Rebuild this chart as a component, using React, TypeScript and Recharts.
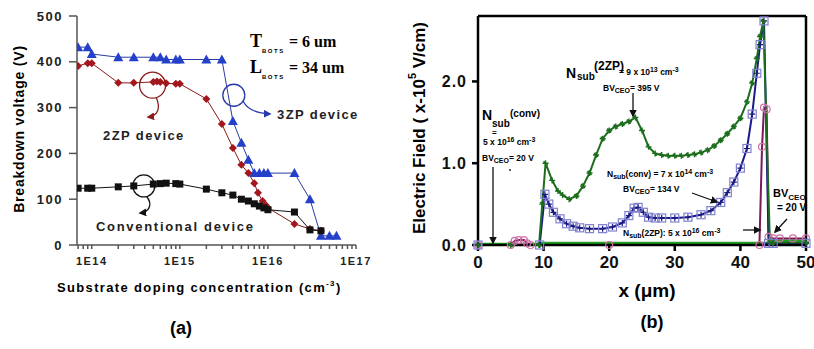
import React from "react";
import { LineChart, Line, XAxis, YAxis, ReferenceDot, ReferenceLine } from "recharts";

const SANS = "'Liberation Sans', Arial, sans-serif";
const SERIF = "'Liberation Serif', 'Times New Roman', serif";

// (a) breakdown voltage vs substrate doping (cm^-3)
const doping3zp = [7e13, 9e13, 1e14, 2e14, 3e14, 5e14, 6e14, 7e14, 9e14, 1e15, 2e15, 3e15, 4e15, 5e15, 6e15, 7e15, 8e15, 9e15, 1e16, 2e16, 3e16, 4e16, 5e16, 6e16];
const bv3zp = [432, 432, 417, 410, 410, 410, 410, 405, 405, 405, 405, 405, 271, 223, 186, 157, 157, 157, 157, 157, 100, 20, 20, 20];

const doping2zp = [7e13, 9e13, 1e14, 2e14, 3e14, 5e14, 5.5e14, 6e14, 7e14, 9e14, 1e15, 2e15, 3e15, 4e15, 5e15, 6e15, 7e15, 7.7e15, 8.7e15, 9.5e15, 1e16, 2e16, 3e16, 4e16];
const bv2zp = [391, 397, 397, 354, 354, 356, 357, 356, 353, 352, 352, 319, 264, 212, 175, 157, 135, 114, 96, 87, 81, 46, 35, 31];

const dopingConv = [7e13, 9e13, 1e14, 2e14, 3e14, 5e14, 6e14, 7e14, 9e14, 1e15, 2e15, 3e15, 4e15, 5e15, 6e15, 7e15, 8e15, 9e15, 1e16, 2e16, 3e16, 4e16];
const bvConv = [124, 124, 124, 127, 129, 133, 134, 135, 134, 133, 122, 114, 109, 100, 96, 90, 85, 81, 77, 72, 33, 31];

const decades = [13, 14, 15, 16];
const mantissas = [1, 2, 3, 4, 5, 6, 7, 8, 9];
const dopingMin = 6.8e13;
const dopingMax = 1e17;
const voltTicks = [0, 100, 200, 300, 400, 500];

// (b) electric field (x1e5 V/cm) along x (um)
const x2zpLow = [0, 5, 9.3, 9.8, 10.3, 11.3, 12.2, 12.9, 13.9, 15, 16, 17, 18, 19, 20, 21, 22, 23, 24, 25, 26, 27, 28, 29, 30, 31, 32, 33, 34, 35, 36, 37, 38, 39, 40, 41, 41.8, 42.5, 43, 43.5, 44.5, 45, 50];
const e2zpLow = [0, 0, 0, 0.5, 1.0, 0.79, 0.66, 0.61, 0.56, 0.6, 0.72, 0.88, 1.1, 1.3, 1.4, 1.45, 1.48, 1.51, 1.56, 1.4, 1.2, 1.12, 1.1, 1.09, 1.09, 1.09, 1.1, 1.11, 1.13, 1.16, 1.21, 1.28, 1.36, 1.45, 1.55, 1.75, 1.98, 2.28, 2.55, 2.74, 0.03, 0.03, 0.03];

const xConv = [0, 9.4, 10.2, 10.8, 11.5, 12.5, 13.5, 14.5, 15.5, 17, 19, 20.5, 22, 23, 23.8, 24.4, 25.2, 26, 27, 28, 30, 32, 34, 35.5, 37, 38, 39, 40, 41, 41.8, 42.5, 43, 43.6, 44.3, 45, 50];
const eConv = [0, 0, 0.62, 0.5, 0.4, 0.32, 0.26, 0.23, 0.21, 0.2, 0.2, 0.22, 0.27, 0.36, 0.45, 0.46, 0.4, 0.34, 0.33, 0.33, 0.33, 0.34, 0.37, 0.42, 0.52, 0.64, 0.77, 0.94, 1.18, 1.6, 2.1, 2.45, 2.74, 0.02, 0.02, 0.02];

const x2zpHigh = [0, 5, 5.6, 6.2, 7, 7.5, 8, 20, 42.9, 43.3, 43.6, 44.0, 44.3, 45, 46, 48, 50];
const e2zpHigh = [0, 0, 0.05, 0.06, 0.06, 0.02, 0, 0, 0, 1.2, 1.68, 1.66, 0.1, 0.08, 0.08, 0.08, 0.08];

const xFloor = [0, 9, 10, 20, 30, 43, 44.5, 45, 47, 50];
const eFloor = [0.01, 0.01, 0.02, 0.02, 0.02, 0.02, 0.02, 0.05, 0.05, 0.05];

const posTicks = [0, 10, 20, 30, 40, 50];
const fieldTicks = [0, 1, 2];

const pts = (xs: number[], ys: number[]) => xs.map((x, i) => ({ x, y: ys[i] }));

const Tri = (p: any) => (
  <path key={`t${p.index}`} d={`M${p.cx},${p.cy - 5}L${p.cx + 5},${p.cy + 4}L${p.cx - 5},${p.cy + 4}Z`} fill="#2440c8" />
);
const Dia = (p: any) => (
  <path key={`d${p.index}`} d={`M${p.cx},${p.cy - 4}L${p.cx + 4},${p.cy}L${p.cx},${p.cy + 4}L${p.cx - 4},${p.cy}Z`} fill="#a3161c" />
);
const Sq = (p: any) => <rect key={`s${p.index}`} x={p.cx - 3.5} y={p.cy - 3.5} width={7} height={7} fill="#111" />;
const Star = (p: any) => (
  <path
    key={`g${p.index}`}
    d={`M${p.cx - 3},${p.cy}h6M${p.cx},${p.cy - 3}v6M${p.cx - 2},${p.cy - 2}l4,4`}
    stroke="#1c6e1c"
    strokeWidth={1.4}
  />
);
const OpenSq = (p: any) => (
  <g key={`b${p.index}`}>
    <rect x={p.cx - 4} y={p.cy - 4} width={8} height={8} fill="none" stroke="#8080d0" strokeWidth={1.2} />
    <path d={`M${p.cx - 3},${p.cy}h6M${p.cx},${p.cy - 3}v6`} stroke="#1a1a80" strokeWidth={1.2} />
  </g>
);
const OpenCirc = (p: any) => (
  <circle key={`c${p.index}`} cx={p.cx} cy={p.cy} r={3.5} fill="none" stroke="#d070a8" strokeWidth={1.2} />
);

const isDecade = (v: number) => Math.abs(Math.log10(v) - Math.round(Math.log10(v))) < 1e-6;

function PanelA() {
  const ticks = decades
    .flatMap((d) => mantissas.map((m) => m * 10 ** d))
    .filter((v) => v >= dopingMin)
    .concat([dopingMax]);
  return (
    <LineChart width={384} height={300} margin={{ top: 16, right: 28, left: 15, bottom: 25 }}>
      <XAxis
        type="number"
        dataKey="x"
        scale="log"
        domain={[dopingMin, dopingMax]}
        allowDataOverflow
        ticks={ticks}
        interval={0}
        height={30}
        stroke="#555"
        strokeWidth={1.5}
        tickSize={4}
        tickMargin={8}
        tickFormatter={(v: number) => (isDecade(v) ? `1E${Math.round(Math.log10(v))}` : "")}
        tick={{ fill: "#222", fontSize: 11, fontWeight: 700, fontFamily: SANS, letterSpacing: 1.5 }}
      />
      <YAxis
        type="number"
        domain={[0, 500]}
        ticks={voltTicks}
        width={62}
        stroke="#555"
        strokeWidth={1.5}
        tickSize={8}
        tickMargin={6}
        tick={{ fill: "#222", fontSize: 13, fontWeight: 700, fontFamily: SANS, letterSpacing: 1.5 }}
      />
      <Line data={pts(doping3zp, bv3zp)} dataKey="y" stroke="#2a3aa8" strokeWidth={1} dot={Tri} isAnimationActive={false} />
      <Line data={pts(doping2zp, bv2zp)} dataKey="y" stroke="#8a1a1a" strokeWidth={1} dot={Dia} isAnimationActive={false} />
      <Line data={pts(dopingConv, bvConv)} dataKey="y" stroke="#111" strokeWidth={1} dot={Sq} isAnimationActive={false} />
      <ReferenceDot x={4.1e15} y={327} r={11} fill="none" stroke="#2a3aa8" strokeWidth={1.3} />
      <ReferenceDot x={4.9e14} y={349} r={13} fill="none" stroke="#8a1a1a" strokeWidth={1.3} />
      <ReferenceDot x={3.9e14} y={129} r={11} fill="none" stroke="#111" strokeWidth={1.3} />
    </LineChart>
  );
}

function PanelB() {
  return (
    <LineChart width={414} height={300} margin={{ top: 16, right: 8, left: 20, bottom: 25 }}>
      <XAxis
        type="number"
        dataKey="x"
        domain={[0, 50]}
        ticks={posTicks}
        interval={0}
        height={30}
        stroke="#000"
        strokeWidth={2.5}
        tickSize={6}
        tickMargin={5}
        tick={{ fill: "#111", fontSize: 17, fontWeight: 700, fontFamily: SANS }}
      />
      <YAxis
        type="number"
        domain={[0, 2.8]}
        ticks={fieldTicks}
        width={58}
        stroke="#000"
        strokeWidth={2.5}
        tickSize={6}
        tickMargin={5}
        tickFormatter={(v: number) => v.toFixed(1)}
        tick={{ fill: "#111", fontSize: 16, fontWeight: 700, fontFamily: SANS, letterSpacing: 1 }}
      />
      <ReferenceLine y={2.8} stroke="#000" strokeWidth={2.5} />
      <ReferenceLine x={50} stroke="#000" strokeWidth={2.5} />
      <Line data={pts(xFloor, eFloor)} dataKey="y" stroke="#22a022" strokeWidth={3} dot={false} isAnimationActive={false} />
      <Line data={pts(x2zpHigh, e2zpHigh)} dataKey="y" stroke="#7a1a5a" strokeWidth={2} dot={OpenCirc} isAnimationActive={false} />
      <Line data={pts(xConv, eConv)} dataKey="y" stroke="#1a1a8a" strokeWidth={2} dot={OpenSq} isAnimationActive={false} />
      <Line data={pts(x2zpLow, e2zpLow)} dataKey="y" stroke="#1c6e1c" strokeWidth={2} dot={Star} isAnimationActive={false} />
    </LineChart>
  );
}

function Arrow({ d, color, id }: { d: string; color: string; id: string }) {
  return <path d={d} fill="none" stroke={color} strokeWidth={1.3} markerEnd={`url(#${id})`} />;
}

function Overlay() {
  const b = { fontFamily: SANS, fontWeight: 700 } as const;
  return (
    <svg width={814} height={349} style={{ position: "absolute", left: 0, top: 0, pointerEvents: "none" }}>
      <defs>
        {[
          ["ahBlue", "#2a3aa8"],
          ["ahRed", "#8a1a1a"],
          ["ahBlack", "#111"],
        ].map(([id, c]) => (
          <marker key={id} id={id} viewBox="0 0 10 10" refX="8" refY="5" markerWidth="6" markerHeight="6" orient="auto">
            <path d="M0,0L10,5L0,10Z" fill={c} />
          </marker>
        ))}
      </defs>

      {/* panel (a) */}
      <text x={19} y={129} transform="rotate(-90 19 129)" textAnchor="middle" dominantBaseline="central" fontSize={14} letterSpacing={0.8} {...b}>
        Breakdown voltage (V)
      </text>
      <text x={57} y={292} fontSize={13} letterSpacing={1.35} {...b}>
        Substrate doping concentration (cm<tspan dy={-6} fontSize={8}>-3</tspan>
        <tspan dy={6}>)</tspan>
      </text>
      <text x={250} y={47} fontFamily={SERIF} fontWeight={700} fontSize={18}>T</text>
      <text x={262} y={53} fontSize={6} letterSpacing={1.5} {...b}>BOTS</text>
      <text x={289} y={47} fontFamily={SERIF} fontWeight={700} fontSize={16}>= 6 um</text>
      <text x={250} y={73} fontFamily={SERIF} fontWeight={700} fontSize={18}>L</text>
      <text x={262} y={79} fontSize={6} letterSpacing={1.5} {...b}>BOTS</text>
      <text x={289} y={73} fontFamily={SERIF} fontWeight={700} fontSize={16}>= 34 um</text>
      <text x={277} y={119} fontSize={13} letterSpacing={1.4} fill="#222" {...b}>3ZP device</text>
      <text x={103} y={140} fontSize={13} letterSpacing={1.4} fill="#222" {...b}>2ZP device</text>
      <text x={96} y={231} fontSize={13} letterSpacing={1.7} fill="#222" {...b}>Conventional device</text>
      <Arrow id="ahBlue" color="#2a3aa8" d="M243,101 Q249,113 270,114" />
      <Arrow id="ahRed" color="#8a1a1a" d="M156,97 C161,108 158,116 148,117" />
      <Arrow id="ahBlack" color="#111" d="M147,197 C153,205 149,212 140,213" />
      <text x={181} y={334} textAnchor="middle" fontSize={18} {...b}>(a)</text>

      {/* panel (b) */}
      <text x={419} y={128} transform="rotate(-90 419 128)" textAnchor="middle" dominantBaseline="central" fontSize={17} {...b}>
        Electric Field ( x-10<tspan dy={-7} fontSize={11}>5</tspan>
        <tspan dy={7}> V/cm)</tspan>
      </text>
      <text x={647} y={297} textAnchor="middle" fontSize={19} {...b}>x (μm)</text>
      <text x={652} y={328} textAnchor="middle" fontSize={18} {...b}>(b)</text>

      <text x={566} y={78} fontSize={14} {...b}>N</text>
      <text x={577} y={80} fontSize={10} {...b}>sub</text>
      <text x={594} y={70} fontSize={12} {...b}>(2ZP)</text>
      <text x={619} y={75} fontSize={8.5} {...b}>= 9 x 10<tspan dy={-3} fontSize={7}>13</tspan><tspan dy={3}> cm</tspan><tspan dy={-3} fontSize={7}>-3</tspan></text>
      <text x={603} y={91} fontSize={8.5} {...b}>BV<tspan dy={2} fontSize={7}>CEO</tspan><tspan dy={-2}>= 395 V</tspan></text>
      <Arrow id="ahBlack" color="#111" d="M633,93 L633,116" />

      <text x={482} y={120} fontSize={14} {...b}>N</text>
      <text x={492} y={127} fontSize={10} {...b}>sub</text>
      <text x={510} y={117} fontSize={10} {...b}>(conv)</text>
      <text x={492} y={135} fontSize={8} {...b}>=</text>
      <text x={483} y={145} fontSize={8.5} {...b}>5 x 10<tspan dy={-3} fontSize={7}>16</tspan><tspan dy={3}> cm</tspan><tspan dy={-3} fontSize={7}>-3</tspan></text>
      <text x={482} y={161} fontSize={8.5} {...b}>BV<tspan dy={2} fontSize={7}>CEO</tspan><tspan dy={-2}>= 20 V</tspan></text>
      <Arrow id="ahBlack" color="#111" d="M493,167 L493,243" />
      <circle cx={510} cy={170} r={0.9} fill="#111" />

      <text x={607} y={177} fontSize={8.5} {...b}>N<tspan dy={2} fontSize={7}>sub</tspan><tspan dy={-2}>(conv) = 7 x 10</tspan><tspan dy={-3} fontSize={7}>14</tspan><tspan dy={3}> cm</tspan><tspan dy={-3} fontSize={7}>-3</tspan></text>
      <text x={623} y={192} fontSize={8.5} {...b}>BV<tspan dy={2} fontSize={7}>CEO</tspan><tspan dy={-2}>= 134 V</tspan></text>
      <Arrow id="ahBlack" color="#111" d="M692,193 L717,202" />

      <text x={623} y={236} fontSize={8.5} {...b}>N<tspan dy={2} fontSize={7}>sub</tspan><tspan dy={-2}>(2ZP): 5 x 10</tspan><tspan dy={-3} fontSize={7}>16</tspan><tspan dy={3}> cm</tspan><tspan dy={-3} fontSize={7}>-3</tspan></text>
      <Arrow id="ahBlack" color="#111" d="M743,230 L760,230" />

      <text x={773} y={197} fontSize={11} {...b}>BV<tspan dy={3} fontSize={8}>CEO</tspan></text>
      <text x={777} y={211} fontSize={10} {...b}>= 20 V</text>
      <Arrow id="ahBlack" color="#111" d="M787,219 L775,232" />
    </svg>
  );
}

export default function App() {
  return (
    <div style={{ position: "absolute", left: 0, top: 0, width: 814, height: 349, background: "#fff", fontFamily: SANS }}>
      <div style={{ position: "absolute", left: 0, top: 0 }}>
        <PanelA />
      </div>
      <div style={{ position: "absolute", left: 400, top: 0 }}>
        <PanelB />
      </div>
      <Overlay />
    </div>
  );
}
